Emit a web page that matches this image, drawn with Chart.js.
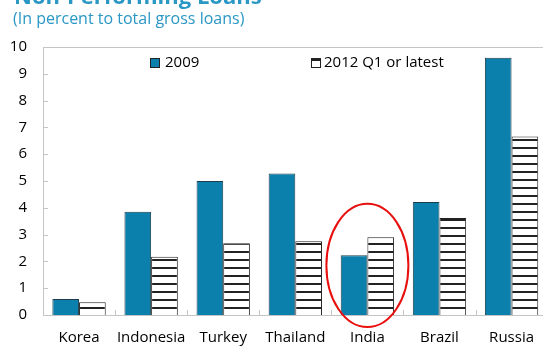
<!DOCTYPE html>
<html>
<head>
<meta charset="utf-8">
<script src="https://cdn.jsdelivr.net/npm/chart.js@4"></script>
<style>
    html, body { margin: 0; padding: 0; overflow: hidden; background: #fff; }
    #wrap { position: relative; width: 548px; height: 348px; }
    .title { position: absolute; left: 14px; top: -20px; font: bold 22px "Open Sans", sans-serif; color: #2a97c5; white-space: nowrap; }
    .subtitle { position: absolute; left: 13px; top: 7px; font: 16px "Open Sans", sans-serif; color: #2a97c5; white-space: nowrap; }
</style>
</head>
<body>
<div id="wrap">
    <canvas id="nplChart" width="548" height="348"></canvas>
    <div class="title">Non-Performing Loans</div>
    <div class="subtitle">(In percent to total gross loans)</div>
</div>
<script>
const countries = ['Korea', 'Indonesia', 'Turkey', 'Thailand', 'India', 'Brazil', 'Russia'];
const npl2009 = [0.6, 3.85, 5.0, 5.28, 2.23, 4.22, 9.6];
const npl2012 = [0.48, 2.17, 2.68, 2.75, 2.9, 3.62, 6.66];
const yTicks = [0, 1, 2, 3, 4, 5, 6, 7, 8, 9, 10];
const seriesNames = ['2009', '2012 Q1 or latest'];
const highlightIndex = 4;

const teal = '#0b80ac';
const axisGray = '#c4c4c4';

function makeHatch() {
    const c = document.createElement('canvas');
    c.width = 8;
    c.height = 8;
    const g = c.getContext('2d');
    g.fillStyle = '#fff';
    g.fillRect(0, 0, 8, 8);
    g.fillStyle = '#222';
    g.fillRect(0, 3, 8, 2);
    return g.createPattern(c, 'repeat');
}

const hatch = makeHatch();

// axes frame, inner tick marks, legend and the red circle round India
const decorations = {
    id: 'decorations',
    afterDraw(chart) {
        const ctx = chart.ctx;
        const area = chart.chartArea;
        const x = chart.scales.x;
        const y = chart.scales.y;
        ctx.save();
        ctx.strokeStyle = axisGray;
        ctx.lineWidth = 1;
        ctx.beginPath();
        ctx.moveTo(area.left, area.top + 0.5);
        ctx.lineTo(area.right, area.top + 0.5);
        yTicks.forEach(v => {
            const py = Math.round(y.getPixelForValue(v)) + 0.5;
            ctx.moveTo(area.left, py);
            ctx.lineTo(area.left + 5, py);
        });
        for (let i = 1; i < countries.length; i++) {
            const px = Math.round((x.getPixelForValue(i - 1) + x.getPixelForValue(i)) / 2) + 0.5;
            ctx.moveTo(px, area.bottom);
            ctx.lineTo(px, area.bottom - 5);
        }
        ctx.stroke();

        // legend
        ctx.font = '15px "Open Sans", sans-serif';
        ctx.textBaseline = 'middle';
        const ly = area.top + 16;
        ctx.fillStyle = teal;
        ctx.fillRect(150, ly - 5, 10, 10);
        ctx.strokeStyle = '#222';
        ctx.strokeRect(150.5, ly - 4.5, 9, 9);
        ctx.fillStyle = '#000';
        ctx.fillText(seriesNames[0], 165, ly);
        ctx.fillStyle = hatch;
        ctx.fillRect(311, ly - 5, 10, 10);
        ctx.strokeRect(311.5, ly - 4.5, 9, 9);
        ctx.fillStyle = '#000';
        ctx.fillText(seriesNames[1], 324, ly);

        // highlight ellipse
        const cx = x.getPixelForValue(highlightIndex);
        const top = y.getPixelForValue(4.15);
        const bottom = y.getPixelForValue(-0.45);
        ctx.strokeStyle = '#e8100f';
        ctx.lineWidth = 2;
        ctx.beginPath();
        ctx.ellipse(cx, (top + bottom) / 2, 41, (bottom - top) / 2, 0, 0, Math.PI * 2);
        ctx.stroke();
        ctx.restore();
    }
};

new Chart(document.getElementById('nplChart'), {
    type: 'bar',
    data: {
        labels: countries,
        datasets: [{
            label: seriesNames[0],
            data: npl2009,
            backgroundColor: teal,
            borderColor: '#1d3d4d',
            borderWidth: 1
        }, {
            label: seriesNames[1],
            data: npl2012,
            backgroundColor: hatch,
            borderColor: '#222',
            borderWidth: 1
        }]
    },
    options: {
        responsive: false,
        animation: false,
        layout: { padding: { top: 47, left: 0, right: 0, bottom: 0 } },
        datasets: { bar: { categoryPercentage: 0.74, barPercentage: 1 } },
        plugins: {
            legend: { display: false },
            tooltip: { enabled: false }
        },
        scales: {
            x: {
                grid: { display: false, drawTicks: false },
                border: { display: true, color: axisGray },
                ticks: {
                    color: '#000', padding: 14, maxRotation: 0, minRotation: 0, autoSkip: false,
                    font: { family: 'Open Sans', size: 15 }
                },
                afterFit(scale) { scale.height = 33; }
            },
            y: {
                min: 0,
                max: 10,
                grid: { display: false, drawTicks: false },
                border: { display: true, color: axisGray },
                ticks: { color: '#000', stepSize: 1, padding: 16, font: { family: 'Open Sans', size: 15 } },
                afterFit(scale) { scale.width = 43; }
            }
        }
    },
    plugins: [decorations]
});
</script>
</body>
</html>
